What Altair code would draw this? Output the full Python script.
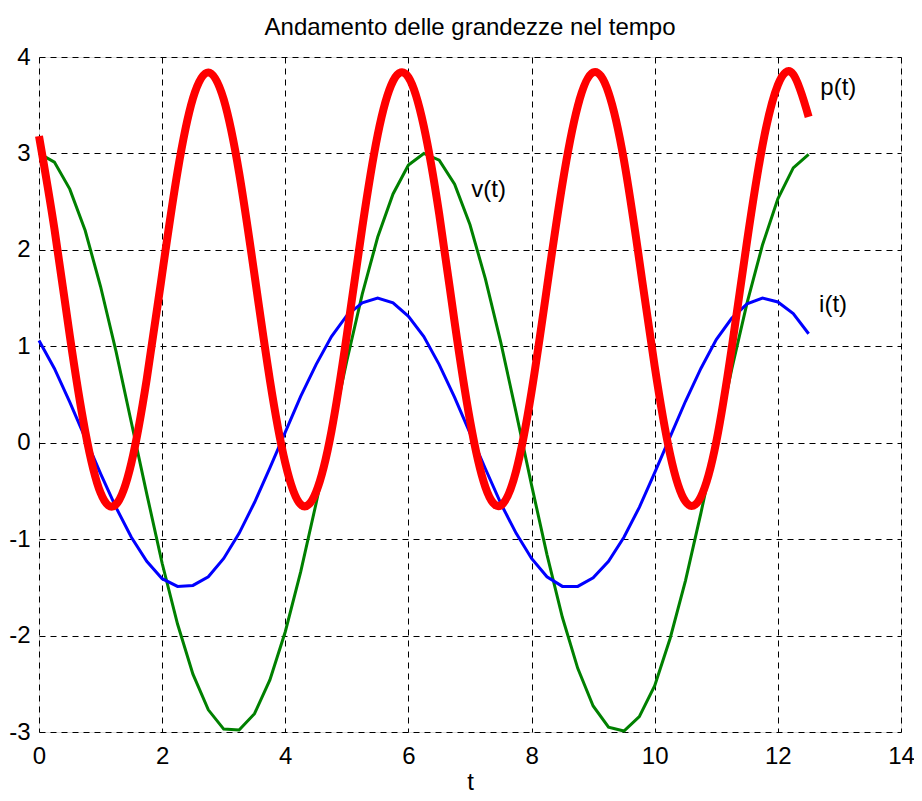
import altair as alt
import pandas as pd

t = [0, 0.25, 0.5, 0.75, 1.0, 1.25, 1.5, 1.75, 2.0, 2.25, 2.5, 2.75, 3.0, 3.25, 3.5, 3.75,
     4.0, 4.25, 4.5, 4.75, 5.0, 5.25, 5.5, 5.75, 6.0, 6.25, 6.5, 6.75, 7.0, 7.25, 7.5, 7.75,
     8.0, 8.25, 8.5, 8.75, 9.0, 9.25, 9.5, 9.75, 10.0, 10.25, 10.5, 10.75, 11.0, 11.25, 11.5,
     11.75, 12.0, 12.25, 12.5]

v = [3.00, 2.91, 2.63, 2.20, 1.62, 0.95, 0.21, -0.53, -1.25, -1.88, -2.40, -2.77, -2.97, -2.98,
     -2.81, -2.46, -1.96, -1.34, -0.63, 0.11, 0.85, 1.54, 2.13, 2.58, 2.88, 3.00, 2.93, 2.68,
     2.26, 1.70, 1.04, 0.31, -0.44, -1.16, -1.81, -2.34, -2.73, -2.95, -2.99, -2.84, -2.52,
     -2.03, -1.43, -0.73, 0.01, 0.76, 1.45, 2.05, 2.53, 2.85, 2.99]

i = [1.06, 0.77, 0.42, 0.05, -0.32, -0.67, -0.98, -1.23, -1.41, -1.49, -1.48, -1.39, -1.20,
     -0.94, -0.62, -0.26, 0.11, 0.48, 0.81, 1.10, 1.32, 1.45, 1.50, 1.45, 1.31, 1.10, 0.81,
     0.47, 0.10, -0.27, -0.63, -0.94, -1.20, -1.39, -1.49, -1.49, -1.40, -1.23, -0.98, -0.67,
     -0.31, 0.06, 0.43, 0.77, 1.07, 1.29, 1.44, 1.50, 1.46, 1.34, 1.13]

p = [3.18, 2.22, 1.11, 0.12, -0.52, -0.64, -0.21, 0.66, 1.75, 2.81, 3.57, 3.84, 3.56, 2.80,
     1.74, 0.65, -0.21, -0.64, -0.51, 0.12, 1.12, 2.23, 3.19, 3.75, 3.79, 3.28, 2.37, 1.25,
     0.23, -0.46, -0.65, -0.29, 0.53, 1.61, 2.68, 3.49, 3.84, 3.63, 2.93, 1.89, 0.79, -0.12,
     -0.61, -0.56, 0.01, 0.98, 2.09, 3.08, 3.71, 3.82, 3.38]

label_text = ["p(t)", "v(t)", "i(t)"]
label_x = [12.69, 7.02, 12.67]
label_y = [3.68, 2.62, 1.43]

FONT = "Liberation Sans"

df = pd.DataFrame({"t": t, "v": v, "i": i, "p": p})
labels = pd.DataFrame({"text": label_text, "x": label_x, "y": label_y})

xscale = alt.Scale(domain=[0, 14], nice=False)
yscale = alt.Scale(domain=[-3, 4], nice=False)

xaxis = alt.Axis(values=list(range(0, 15, 2)), labelExpr="'' + datum.value", grid=True,
                 gridColor="black", gridDash=[6, 5], gridOpacity=1, ticks=False, domain=False,
                 labelFlush=False, labelPadding=12, labelFontSize=24, labelFont=FONT,
                 labelColor="black", title="t", titleFontSize=24, titleFont=FONT,
                 titleFontWeight="normal", titleColor="black", titlePadding=2)
yaxis = alt.Axis(values=list(range(-3, 5)), labelExpr="'' + datum.value", grid=True,
                 gridColor="black", gridDash=[6, 5], gridOpacity=1, ticks=False, domain=False,
                 labelFlush=False, labelPadding=9, labelFontSize=24, labelFont=FONT,
                 labelColor="black", title=None)

base = alt.Chart(df)

grid = base.mark_point(opacity=0).encode(
    x=alt.X("t:Q", scale=xscale, axis=xaxis),
    y=alt.Y("v:Q", scale=yscale, axis=yaxis),
)

v_line = base.mark_line(color="#008000", strokeWidth=3).encode(
    x=alt.X("t:Q", scale=xscale), y=alt.Y("v:Q", scale=yscale))
i_line = base.mark_line(color="#0000ff", strokeWidth=3).encode(
    x=alt.X("t:Q", scale=xscale), y=alt.Y("i:Q", scale=yscale))
p_line = base.mark_line(color="#ff0000", strokeWidth=8, interpolate="natural").encode(
    x=alt.X("t:Q", scale=xscale), y=alt.Y("p:Q", scale=yscale))

text = alt.Chart(labels).mark_text(align="left", baseline="middle", fontSize=24,
                                   font=FONT, color="black").encode(
    x=alt.X("x:Q", scale=xscale), y=alt.Y("y:Q", scale=yscale), text="text:N")

chart = alt.layer(grid, v_line, i_line, p_line, text).properties(
    width=862, height=675,
    title=alt.TitleParams("Andamento delle grandezze nel tempo", fontSize=24, font=FONT,
                          fontWeight="normal", color="black", anchor="middle", offset=5),
    autosize=alt.AutoSizeParams(type="none"),
    padding={"left": 31, "top": 49, "right": 13, "bottom": 62},
).configure_view(stroke="black", strokeWidth=1.5).configure(background="white")

chart.save("out.html", embed_options={"renderer": "svg", "actions": False})
